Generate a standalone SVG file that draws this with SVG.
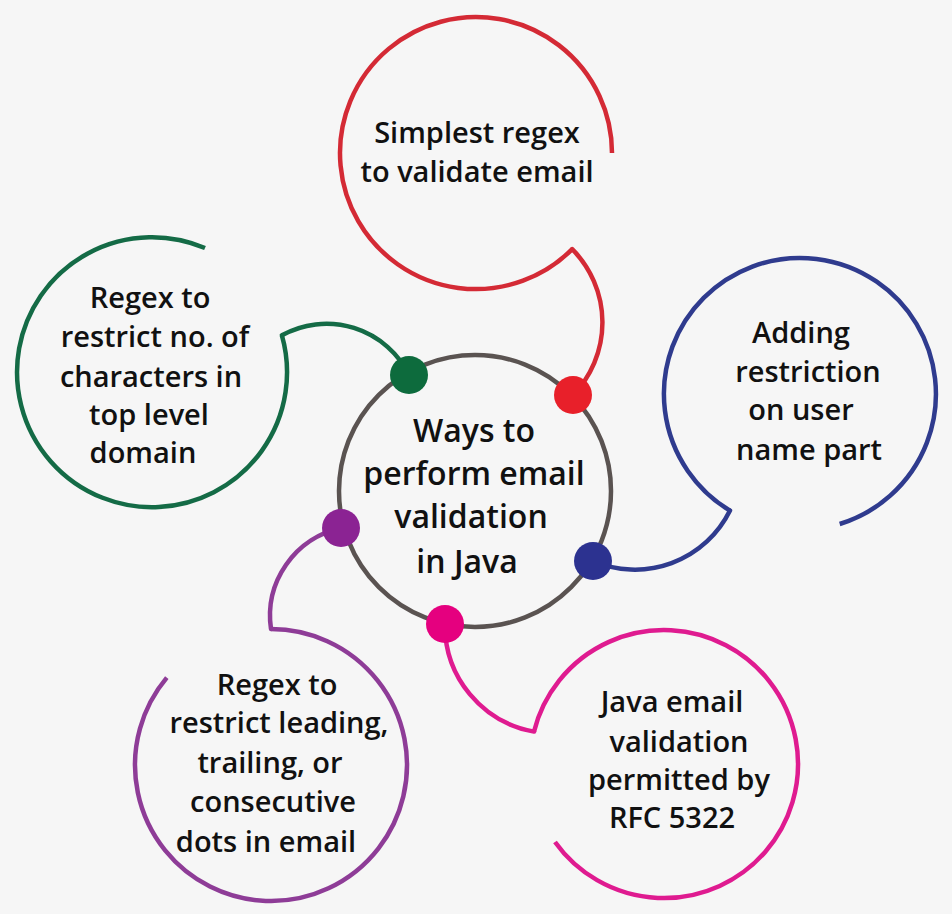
<svg xmlns="http://www.w3.org/2000/svg" width="952" height="914" viewBox="0 0 952 914">
<style>
.t{font-family:"Open Sans","Liberation Sans",sans-serif;font-weight:600;font-size:29px;fill:#111;text-anchor:middle}
.c{font-size:32px}
.arc{fill:none;stroke-width:4.5;stroke-linecap:butt}
.tail{fill:none;stroke-width:4.5;stroke-linecap:round}
.red{stroke:#d42a35}.green{stroke:#146b46}.blue{stroke:#2f3b8e}.purple{stroke:#8e3c97}.pink{stroke:#df1b90}
</style>
<rect width="952" height="914" fill="#f6f6f6"/>
<g id="connectors">
<path class="tail red" d="M572.2,249.2 A104,104 0 0 1 573,395"/>
<path class="tail green" d="M281.9,335.3 A92,92 0 0 1 409,375"/>
<path class="tail blue" d="M730,510.6 A106,106 0 0 1 593,561"/>
<path class="tail purple" d="M341,528 A90,90 0 0 0 271,629"/>
<path class="tail pink" d="M445,624 A108,108 0 0 0 534,731.6"/>
</g>
<g id="center">
<circle cx="475" cy="491" r="136" fill="none" stroke="#5a5351" stroke-width="4.5"/>
<text class="t c" x="474" y="442">Ways to</text>
<text class="t c" x="474" y="485">perform email</text>
<text class="t c" x="471" y="528">validation</text>
<text class="t c" x="467" y="573">in Java</text>
</g>
<g id="node-red">
<path class="arc red" d="M612,153 A136,136 0 1 0 572.2,249.2"/>
<text class="t" x="477" y="143">Simplest regex</text>
<text class="t" x="477" y="182">to validate email</text>
<circle cx="573" cy="395" r="19" fill="#e8202a"/>
</g>
<g id="node-green">
<path class="arc green" d="M205,248 A135,135 0 1 0 281.9,335.3"/>
<text class="t" x="150" y="308">Regex to</text>
<text class="t" x="155" y="347">restrict no. of</text>
<text class="t" x="151" y="387">characters in</text>
<text class="t" x="149" y="425">top level</text>
<text class="t" x="143" y="463">domain</text>
<circle cx="409" cy="375" r="19" fill="#0d6b3d"/>
</g>
<g id="node-blue">
<path class="arc blue" d="M839.7,524 A136,136 0 1 0 730,510.6"/>
<text class="t" x="801" y="343">Adding</text>
<text class="t" x="808" y="382">restriction</text>
<text class="t" x="801" y="420">on user</text>
<text class="t" x="809" y="460">name part</text>
<circle cx="593" cy="561" r="19" fill="#2c3290"/>
</g>
<g id="node-purple">
<path class="arc purple" d="M271,629 A136,136 0 1 1 166.8,677.6"/>
<text class="t" x="277" y="695">Regex to</text>
<text class="t" x="279" y="733">restrict leading,</text>
<text class="t" x="270" y="773">trailing, or</text>
<text class="t" x="273" y="812">consecutive</text>
<text class="t" x="266" y="852">dots in email</text>
<circle cx="341" cy="528" r="19" fill="#8b2393"/>
</g>
<g id="node-pink">
<path class="arc pink" d="M534,731.6 A134,134 0 1 1 555,842"/>
<text class="t" x="672" y="712">Java email</text>
<text class="t" x="679" y="752">validation</text>
<text class="t" x="679" y="790">permitted by</text>
<text class="t" x="672" y="828">RFC 5322</text>
<circle cx="445" cy="624" r="19" fill="#e5007f"/>
</g>
</svg>
